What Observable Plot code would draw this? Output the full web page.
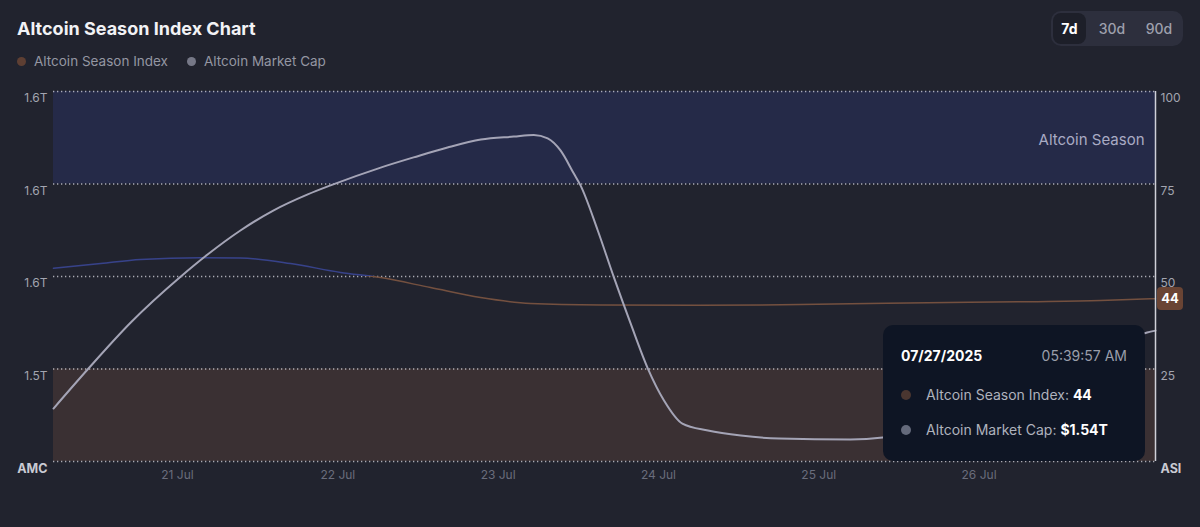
<!DOCTYPE html>
<html><head><meta charset="utf-8">
<script src="https://cdn.jsdelivr.net/npm/d3@7"></script>
<script src="https://cdn.jsdelivr.net/npm/@observablehq/plot@0.6"></script>
<style>
html,body{margin:0;padding:0;background:#21232e;width:1200px;height:527px;overflow:hidden;font-family:Inter,"Noto Sans",sans-serif;}
#wrap{position:relative;width:1200px;height:527px;}
#head{position:relative;height:80px;}
#title{position:absolute;left:17px;top:18px;font-size:18px;font-weight:700;color:#f2f2f5;letter-spacing:0px;}
.leg{position:absolute;top:53px;font-size:13.5px;color:#9496a2;display:flex;align-items:center;}
.leg i{display:inline-block;width:9px;height:9px;border-radius:50%;margin-right:8px;}
#seg{position:absolute;left:1051px;top:11px;width:132px;height:35px;border-radius:10px;background:#2d2f3d;}
#seg span{position:absolute;top:0;height:35px;line-height:35px;font-size:14px;font-weight:500;color:#9ea0ad;text-align:center;}
#seg .on{left:2px;top:2px;height:31px;line-height:31px;width:33px;border-radius:8px;background:#1d1f29;color:#ffffff;font-weight:700;}
#chart{position:absolute;left:0;top:80px;}
#tip{position:absolute;left:883px;top:325px;width:262px;height:136px;background:#0e1524;border-radius:10px;color:#aeb2bd;font-size:14px;}
#tip .d{position:absolute;left:18px;top:22px;font-weight:700;color:#fff;}
#tip .t{position:absolute;right:18px;top:22px;color:#9a9eaa;}
#tip .r{position:absolute;left:43px;}
#tip .r b{color:#fff;font-weight:700;}
#tip i{position:absolute;left:18px;width:10px;height:10px;border-radius:50%;}
#badge{position:absolute;left:1157px;width:26px;height:23px;line-height:23px;border-radius:4px;background:#6a4434;color:#fff;font-weight:700;font-size:13px;text-align:center;}
</style></head>
<body><div id="wrap">
<div id="head">
  <div id="title">Altcoin Season Index Chart</div>
  <div class="leg" style="left:17px"><i style="background:#5e3f33"></i>Altcoin Season Index</div>
  <div class="leg" style="left:187px"><i style="background:#767887"></i>Altcoin Market Cap</div>
  <div id="seg"><span class="on">7d</span><span style="left:41px;width:40px;">30d</span><span style="left:88px;width:40px;">90d</span></div>
</div>
<div id="chart"></div>
</div>
<script>
// ---- data ----
const asiTimes = ["2025-07-20T05:26Z","2025-07-20T12:30Z","2025-07-20T18:28Z","2025-07-21T03:26Z","2025-07-21T09:26Z","2025-07-21T16:55Z","2025-07-22T00:24Z","2025-07-22T06:24Z","2025-07-22T13:53Z","2025-07-22T21:22Z","2025-07-23T04:51Z","2025-07-23T15:20Z","2025-07-24T06:18Z","2025-07-24T21:16Z","2025-07-25T10:10Z","2025-07-26T07:35Z","2025-07-26T18:11Z","2025-07-27T02:25Z"];
const asiValues = [52.2,53.5,54.6,55.1,55.0,53.5,51.1,49.7,47.0,44.3,42.7,42.3,42.2,42.4,42.8,43.2,43.5,44];
const mcTimes = ["2025-07-20T05:26Z","2025-07-20T10:40Z","2025-07-20T17:00Z","2025-07-21T00:30Z","2025-07-21T04:30Z","2025-07-21T09:25Z","2025-07-21T14:20Z","2025-07-21T19:30Z","2025-07-21T22:55Z","2025-07-22T06:25Z","2025-07-22T11:20Z","2025-07-22T16:25Z","2025-07-22T21:25Z","2025-07-23T02:20Z","2025-07-23T05:20Z","2025-07-23T07:25Z","2025-07-23T09:20Z","2025-07-23T11:20Z","2025-07-23T12:20Z","2025-07-23T14:55Z","2025-07-23T17:20Z","2025-07-23T19:50Z","2025-07-23T22:25Z","2025-07-24T00:50Z","2025-07-24T03:35Z","2025-07-24T07:25Z","2025-07-24T12:20Z","2025-07-24T18:05Z","2025-07-25T04:45Z","2025-07-25T09:35Z","2025-07-25T18:10Z","2025-07-26T03:10Z","2025-07-26T12:10Z","2025-07-26T19:40Z","2025-07-27T01:10Z","2025-07-27T02:25Z"];
const mcValues = [1.5029,1.5202,1.5401,1.5600,1.5695,1.5799,1.5885,1.5955,1.5994,1.6071,1.6115,1.6158,1.6192,1.6205,1.6212,1.6197,1.6145,1.6045,1.5994,1.5799,1.5596,1.5397,1.5202,1.5064,1.4964,1.4934,1.4912,1.4899,1.4895,1.4904,1.4977,1.5085,1.5194,1.5289,1.5358,1.5366];
const mcDomain = [1.48, 1.64];           // left-axis market cap range (T)
const asiTicks = [0, 25, 50, 75, 100];
const asiTickLabels = ["ASI", "25", "50", "75", "100"];
const mcTickLabels = ["AMC", "1.5T", "1.6T", "1.6T", "1.6T"];
const xTickDates = ["2025-07-21","2025-07-22","2025-07-23","2025-07-24","2025-07-25","2025-07-26"];
const xTickLabels = ["21 Jul","22 Jul","23 Jul","24 Jul","25 Jul","26 Jul"];
const bands = [{y1: 0, y2: 25, name: "low"}, {y1: 75, y2: 100, name: "Altcoin Season"}];
const tooltip = {date: "07/27/2025", time: "05:39:57 AM", asi: "44", mc: "$1.54T"};

// ---- build ----
const asi = asiTimes.map((t, i) => ({t: new Date(t), v: asiValues[i]}));
const mc = mcTimes.map((t, i) => ({t: new Date(t), v: mcValues[i], y: (mcValues[i] - mcDomain[0]) / (mcDomain[1] - mcDomain[0]) * 100}));
const xDomain = [asi[0].t, asi[asi.length - 1].t];
const ticks = asiTicks.map((v, i) => ({v, r: asiTickLabels[i], l: mcTickLabels[i]}));
const xt = xTickDates.map((d, i) => ({t: new Date(d + "T00:00Z"), s: xTickLabels[i]}));

const chart = Plot.plot({
  width: 1200, height: 447,
  marginTop: 11, marginBottom: 66, marginLeft: 53, marginRight: 45,
  style: {background: "transparent", fontFamily: "Inter, 'Noto Sans', sans-serif"},
  x: {type: "utc", domain: xDomain, axis: null},
  y: {domain: [0, 100], axis: null},
  marks: [
    Plot.rect(bands, {y1: "y1", y2: "y2", fill: d => d.name === "low" ? "#3a3033" : "#252a48"}),
    Plot.ruleY(asiTicks, {stroke: "#d8d8e0", strokeOpacity: 0.75, strokeWidth: 1.3, strokeDasharray: "1.3,2.7"}),
    Plot.text([bands[1]], {y: d => (d.y1 + d.y2) / 2, text: d => d.name, frameAnchor: "right", dx: -11, dy: 2, textAnchor: "end", fill: "#a9abc4", fontSize: 15}),
    Plot.line(asi, {x: "t", y: "v", stroke: "url(#asiGrad)", strokeWidth: 1.5, curve: "monotone-x"}),
    Plot.line(mc, {x: "t", y: "y", stroke: "#a4a4b6", strokeWidth: 2, curve: "monotone-x"}),
    Plot.ruleX([xDomain[1]], {y1: 0, y2: 100, stroke: "#cfd0d8", strokeWidth: 1.5}),
    Plot.text(ticks.filter(d => d.v > 0), {y: "v", text: "l", frameAnchor: "left", dx: -6, dy: 7, textAnchor: "end", fill: "#a3a5b0", fontSize: 12}),
    Plot.text(ticks.filter(d => d.v === 0), {y: "v", text: "l", frameAnchor: "left", dx: -6, dy: 7, textAnchor: "end", fill: "#c9cad3", fontSize: 12.5, fontWeight: 700}),
    Plot.text(ticks.filter(d => d.v > 0), {y: "v", text: "r", frameAnchor: "right", dx: 5, dy: 7, textAnchor: "start", fill: "#a3a5b0", fontSize: 12}),
    Plot.text(ticks.filter(d => d.v === 0), {y: "v", text: "r", frameAnchor: "right", dx: 5, dy: 7, textAnchor: "start", fill: "#c9cad3", fontSize: 12.5, fontWeight: 700}),
    Plot.text(xt, {x: "t", text: "s", frameAnchor: "bottom", dy: 17, fill: "#6a6d7c", fontSize: 12})
  ]
});

// gradient: blue above 50, brown below, positioned by the y scale
const ys = chart.scale("y");
const svgNS = "http://www.w3.org/2000/svg";
const defs = document.createElementNS(svgNS, "defs");
const g = document.createElementNS(svgNS, "linearGradient");
g.setAttribute("id", "asiGrad");
g.setAttribute("gradientUnits", "userSpaceOnUse");
g.setAttribute("x1", 0); g.setAttribute("x2", 0);
g.setAttribute("y1", ys.apply(100)); g.setAttribute("y2", ys.apply(0));
[[0, "#37428a"], [0.5, "#37428a"], [0.5, "#74503f"], [1, "#74503f"]].forEach(([o, c]) => {
  const s = document.createElementNS(svgNS, "stop");
  s.setAttribute("offset", o); s.setAttribute("stop-color", c); g.appendChild(s);
});
defs.appendChild(g);
chart.insertBefore(defs, chart.firstChild);
document.getElementById("chart").appendChild(chart);

// current-value badge on the right axis
const last = asi[asi.length - 1];
const badge = document.createElement("div");
badge.id = "badge";
badge.textContent = String(Math.round(last.v));
badge.style.top = (80 + ys.apply(last.v) - 11) + "px";
document.getElementById("wrap").appendChild(badge);

// tooltip
const tip = document.createElement("div");
tip.id = "tip";
tip.innerHTML = `<div class="d">${tooltip.date}</div><div class="t">${tooltip.time}</div>
<i style="top:65px;background:#4a3630"></i><div class="r" style="top:61px">Altcoin Season Index: <b>${tooltip.asi}</b></div>
<i style="top:100px;background:#646a7b"></i><div class="r" style="top:96px">Altcoin Market Cap: <b>${tooltip.mc}</b></div>`;
document.getElementById("wrap").appendChild(tip);
</script>
</body></html>
